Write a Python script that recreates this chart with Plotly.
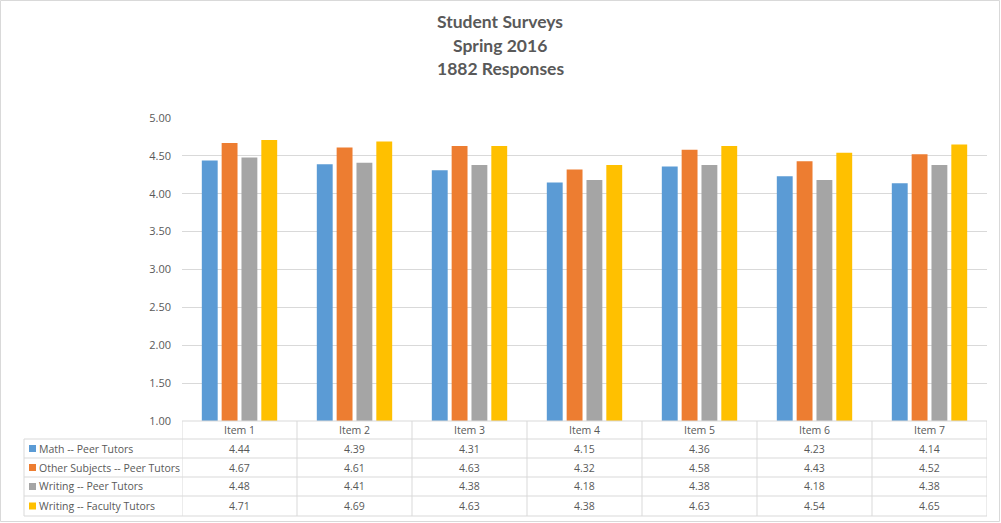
import plotly.graph_objects as go

categories = ["Item 1", "Item 2", "Item 3", "Item 4", "Item 5", "Item 6", "Item 7"]
series_names = ["Math -- Peer Tutors", "Other Subjects -- Peer Tutors",
                "Writing -- Peer Tutors", "Writing -- Faculty Tutors"]
math_peer = [4.44, 4.39, 4.31, 4.15, 4.36, 4.23, 4.14]
other_peer = [4.67, 4.61, 4.63, 4.32, 4.58, 4.43, 4.52]
writing_peer = [4.48, 4.41, 4.38, 4.18, 4.38, 4.18, 4.38]
writing_faculty = [4.71, 4.69, 4.63, 4.38, 4.63, 4.54, 4.65]
colors = ["#5B9BD5", "#ED7D31", "#A5A5A5", "#FFC000"]
series_values = [math_peer, other_peer, writing_peer, writing_faculty]

W, H = 1001, 523
L, R, T, B = 182, 987, 118, 421
TXT = "#595959"
GRID = "#D9D9D9"
FONT = "Open Sans"
FS = 10.5


def px(x):
    return (x - L) / (R - L)


def py(y):
    return (B - y) / (B - T)


fig = go.Figure()
for name, vals, c in zip(series_names, series_values, colors):
    fig.add_trace(go.Bar(x=categories, y=vals, name=name, marker_color=c,
                         marker_line_width=0, hoverinfo="x+y+name"))

shapes = []
annotations = []

# outer border
shapes.append(dict(type="rect", xref="paper", yref="paper", x0=px(0.5), x1=px(W - 1.5),
                   y0=py(0.5), y1=py(H - 1.5), line=dict(color="#D9D9D9", width=1)))

row_edges = [439, 458, 477, 496, 516]
# horizontal table lines
shapes.append(dict(type="line", xref="paper", yref="paper", x0=px(L), x1=px(R),
                   y0=py(B), y1=py(B), line=dict(color=GRID, width=1)))
for y in row_edges:
    shapes.append(dict(type="line", xref="paper", yref="paper", x0=px(24), x1=px(R),
                       y0=py(y), y1=py(y), line=dict(color=GRID, width=1)))
# vertical lines
shapes.append(dict(type="line", xref="paper", yref="paper", x0=px(24), x1=px(24),
                   y0=py(439), y1=py(516), line=dict(color=GRID, width=1)))
for k in range(len(categories) + 1):
    shapes.append(dict(type="line", xref="x", yref="paper", x0=k - 0.5, x1=k - 0.5,
                       y0=py(B), y1=py(516), line=dict(color=GRID, width=1)))

# header row
for cat in categories:
    annotations.append(dict(x=cat, xref="x", y=py(430), yref="paper", text=cat,
                            showarrow=False, font=dict(size=FS, color=TXT, family=FONT),
                            xanchor="center", yanchor="middle"))

# data rows
for r, (name, vals, c) in enumerate(zip(series_names, series_values, colors)):
    yc = (row_edges[r] + row_edges[r + 1]) / 2
    shapes.append(dict(type="rect", xref="paper", yref="paper", x0=px(29), x1=px(36),
                       y0=py(yc + 3.5), y1=py(yc - 3.5), fillcolor=c, line=dict(width=0)))
    annotations.append(dict(x=px(37), xref="paper", y=py(yc), yref="paper", text=name,
                            showarrow=False, font=dict(size=FS, color=TXT, family=FONT),
                            xanchor="left", yanchor="middle"))
    for cat, v in zip(categories, vals):
        annotations.append(dict(x=cat, xref="x", y=py(yc), yref="paper", text=f"{v:.2f}",
                                showarrow=False, font=dict(size=FS, color=TXT, family=FONT),
                                xanchor="center", yanchor="middle"))

# title as annotation lines
title_lines = ["Student Surveys", "Spring 2016", "1882 Responses"]
for i, line in enumerate(title_lines):
    annotations.append(dict(x=px(500), xref="paper", y=py(22 + 23 * i), yref="paper",
                            text=f"<b>{line}</b>", showarrow=False,
                            font=dict(size=17.5, color=TXT, family="Lato"),
                            xanchor="center", yanchor="middle"))

fig.update_layout(
    width=W, height=H,
    margin=dict(l=L, r=W - R, t=T, b=H - B, pad=0),
    paper_bgcolor="white", plot_bgcolor="white",
    showlegend=False,
    barmode="group", bargap=0.31, bargroupgap=0.2,
    xaxis=dict(showticklabels=False, showgrid=False, zeroline=False, showline=False,
               range=[-0.5, len(categories) - 0.5], fixedrange=True),
    yaxis=dict(range=[1, 5], dtick=0.5, tickformat=".2f", showgrid=True, gridcolor=GRID,
               gridwidth=1, zeroline=False, showline=False, ticks="",
               tickfont=dict(size=11, color=TXT, family=FONT), ticklabelstandoff=10),
    shapes=shapes, annotations=annotations,
)

fig.write_html("out.html", config={"displayModeBar": False},
               post_script="document.body.style.margin='0';document.body.style.overflow='hidden';")
